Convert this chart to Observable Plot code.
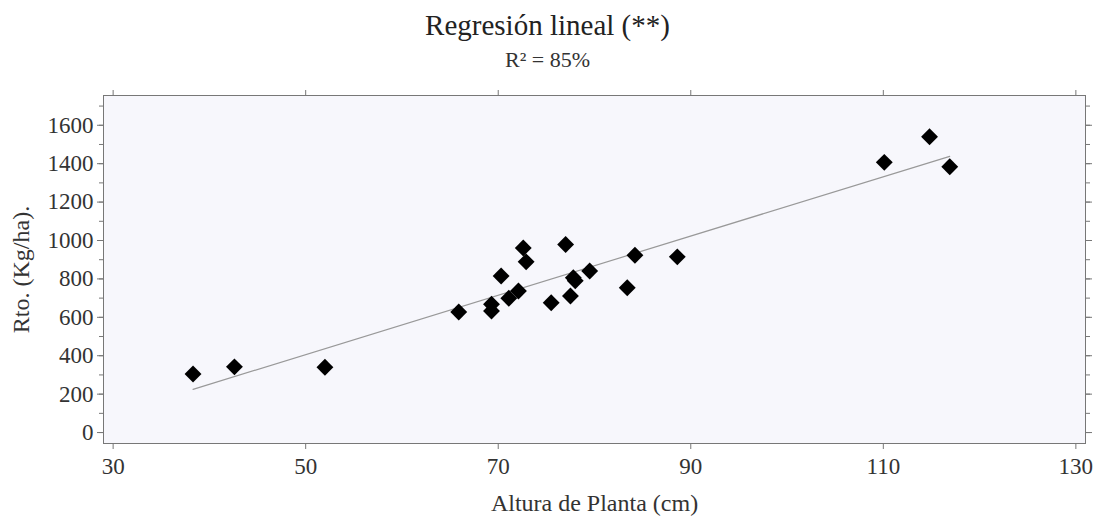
<!DOCTYPE html>
<html>
<head>
<meta charset="utf-8">
<script src="https://cdn.jsdelivr.net/npm/d3@7"></script>
<script src="https://cdn.jsdelivr.net/npm/@observablehq/plot@0.6"></script>
<style>
  html, body { margin: 0; padding: 0; background: #fff; }
  #wrap { width: 1095px; font-family: "Liberation Serif", "DejaVu Serif", serif; color: #222; }
  #title { text-align: center; font-size: 29px; height: 44px; line-height: 44px; padding-top: 3px; }
  #subtitle { text-align: center; font-size: 22px; height: 31px; line-height: 26px; color: #333; }
</style>
</head>
<body>
<div id="wrap">
  <div id="title">Regresión lineal (**)</div>
  <div id="subtitle">R² = 85%</div>
  <div id="chart"></div>
</div>
<script>
const titleText = "Regresión lineal (**)";
const subtitleText = "R² = 85%";
const xLabel = "Altura de Planta (cm)";
const yLabel = "Rto. (Kg/ha).";

// Plant height (cm)
const alturas = [38.3, 42.6, 52.0, 65.9, 69.3, 69.3, 70.3, 71.1, 72.1, 72.6, 72.9, 75.5, 77.0, 77.8, 78.0, 77.5, 79.5, 83.4, 84.2, 88.6, 110.1, 114.8, 116.9];
// Yield (Kg/ha)
const rendimientos = [305, 342, 340, 628, 668, 633, 815, 699, 737, 961, 889, 676, 979, 806, 790, 711, 841, 754, 923, 915, 1407, 1540, 1384];

const xTicks = [30, 50, 70, 90, 110, 130];
const yTicks = [0, 200, 400, 600, 800, 1000, 1200, 1400, 1600];
const yMinorTicks = d3.range(0, 1701, 100);

const data = alturas.map((x, i) => ({x, y: rendimientos[i]}));

const font = {fontFamily: "Liberation Serif", fontSize: 23};

const chart = Plot.plot({
  width: 1095,
  height: 441,
  marginTop: 17,
  marginLeft: 103,
  marginRight: 10,
  marginBottom: 76,
  style: {fontFamily: "Liberation Serif", fontSize: "22px", color: "#333", background: "transparent"},
  x: {domain: [29, 131]},
  y: {domain: [-57, 1755]},
  marks: [
    Plot.frame({fill: "#f7f7fc", stroke: "#777"}),
    Plot.axisY(yMinorTicks, {anchor: "left", tickSize: 4, text: null, stroke: "#777", label: null}),
    Plot.axisY(yMinorTicks, {anchor: "right", tickSize: 4, text: null, stroke: "#777", label: null}),
    Plot.axisY(yTicks, {anchor: "left", tickSize: 6, tickPadding: 4, stroke: "#777", fill: "#333", ...font,
      tickFormat: d => String(d), label: null}),
    Plot.axisY(yTicks, {anchor: "right", tickSize: 6, text: null, stroke: "#777", label: null}),
    Plot.axisX(xTicks, {anchor: "bottom", tickSize: 6, tickPadding: 8, stroke: "#777", fill: "#333", ...font,
      tickFormat: d => String(d), label: null}),
    Plot.axisX(xTicks, {anchor: "top", tickSize: 6, text: null, stroke: "#777", label: null}),
    Plot.text([yLabel], {frameAnchor: "left", textAnchor: "middle", lineAnchor: "middle", dx: -82, rotate: -90, fontSize: 24, fill: "#333", fontFamily: "Liberation Serif"}),
    Plot.text([xLabel], {frameAnchor: "bottom", textAnchor: "middle", lineAnchor: "middle", dy: 60, fontSize: 24, fill: "#333", fontFamily: "Liberation Serif"}),
    Plot.linearRegressionY(data, {x: "x", y: "y", stroke: "#999", strokeWidth: 1.2, ci: 0}),
    Plot.dot(data, {x: "x", y: "y", symbol: "diamond2", r: 7.6, fill: "#000", stroke: "none"})
  ]
});
document.getElementById("chart").appendChild(chart);
</script>
</body>
</html>
